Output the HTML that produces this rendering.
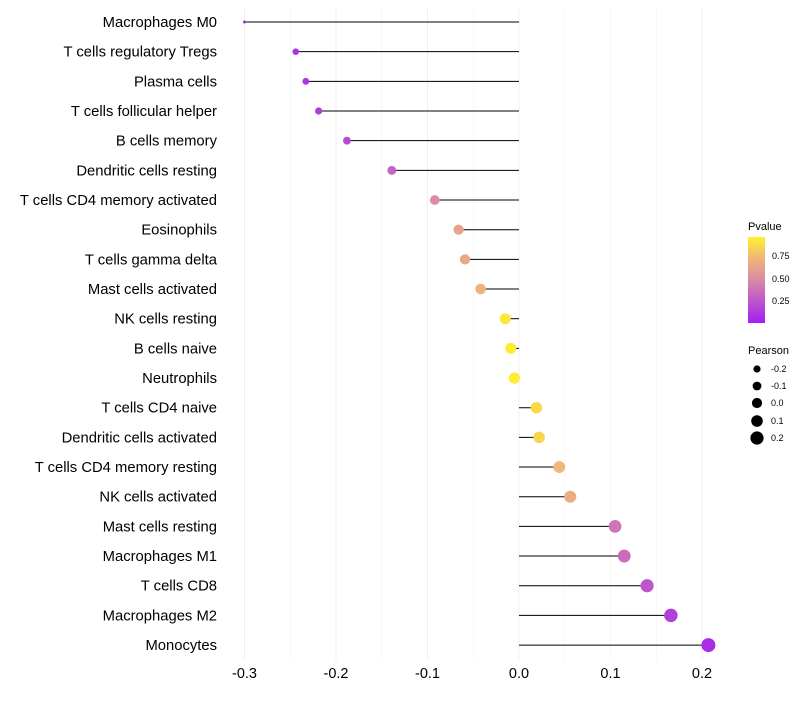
<!DOCTYPE html>
<html><head><meta charset="utf-8"><style>
body{margin:0;background:#fff;font-family:"Liberation Sans",sans-serif}
</style></head><body>
<svg id="chart" width="800" height="700" font-family="Liberation Sans, sans-serif">
<defs><linearGradient id="pg" x1="0" y1="1" x2="0" y2="0">
<stop offset="0" stop-color="#a21ff2"/><stop offset="0.5" stop-color="#d98aa6"/><stop offset="0.75" stop-color="#efb57a"/><stop offset="1" stop-color="#fff22a"/>
</linearGradient></defs>
<g id="grid"></g><g id="marks"></g><g id="labels"></g>
<g>
<text x="748" y="230" font-size="11" fill="#000">Pvalue</text>
<rect x="748" y="237" width="17" height="86" fill="url(#pg)"/>
<g font-size="9" fill="#000">
<text x="772" y="259">0.75</text><text x="772" y="282">0.50</text><text x="772" y="304">0.25</text></g>
<text x="748" y="354" font-size="11" fill="#000">Pearson</text>
<g fill="#000"><circle cx="757" cy="369" r="3.6"/><circle cx="757" cy="386" r="4.4"/><circle cx="757" cy="403" r="5.1"/><circle cx="757" cy="421" r="5.8"/><circle cx="757" cy="438" r="6.6"/></g>
<g font-size="9" fill="#000"><text x="771" y="372">-0.2</text><text x="771" y="389">-0.1</text><text x="771" y="406">0.0</text><text x="771" y="424">0.1</text><text x="771" y="441">0.2</text></g>
</g>
</svg>
<script>
const categories=["Macrophages M0","T cells regulatory  Tregs","Plasma cells","T cells follicular helper","B cells memory","Dendritic cells resting","T cells CD4 memory activated","Eosinophils","T cells gamma delta","Mast cells activated","NK cells resting","B cells naive","Neutrophils","T cells CD4 naive","Dendritic cells activated","T cells CD4 memory resting","NK cells activated","Mast cells resting","Macrophages M1","T cells CD8","Macrophages M2","Monocytes"];
const pearson=[-0.300,-0.244,-0.233,-0.219,-0.188,-0.139,-0.092,-0.066,-0.059,-0.042,-0.015,-0.009,-0.005,0.019,0.022,0.044,0.056,0.105,0.115,0.140,0.166,0.207];
const pvalues=[0.02,0.10,0.11,0.14,0.20,0.32,0.52,0.64,0.68,0.74,0.95,0.97,0.98,0.90,0.88,0.76,0.70,0.40,0.36,0.25,0.15,0.06];
const xTicks=[-0.3,-0.2,-0.1,0.0,0.1,0.2];
const xTickLabels=["-0.3","-0.2","-0.1","0.0","0.1","0.2"];
const NS="http://www.w3.org/2000/svg";
const x=v=>519+v*915;
const y=i=>22+i*29.67;
function col(p){const s=[[0,[162,31,242]],[0.5,[217,138,166]],[0.75,[239,181,122]],[1,[255,242,42]]];
for(let k=1;k<s.length;k++){if(p<=s[k][0]){const t=(p-s[k-1][0])/(s[k][0]-s[k-1][0]);const a=s[k-1][1],b=s[k][1];return `rgb(${a.map((c,j)=>Math.round(c+(b[j]-c)*t)).join(',')})`;}}return 'rgb(255,242,42)';}
const rad=v=>v<-0.28?1.5:Math.sqrt(Math.max(10.9+84.5*(v+0.244),2));
function mk(tag,at,parent){const e=document.createElementNS(NS,tag);for(const k in at)e.setAttribute(k,at[k]);parent.appendChild(e);return e;}
const grid=document.getElementById('grid'),marks=document.getElementById('marks'),labels=document.getElementById('labels');
for(let v=-0.35;v<=0.21;v+=0.05){const xx=x(v);if(xx<232)continue;
const l=mk('line',{x1:xx,x2:xx,y1:8,y2:660,stroke:'#f0f0f0','stroke-width':Math.abs((v*20)%2)>0.5?0.5:1},grid);
}
xTicks.forEach((v,i)=>{const t=mk('text',{x:x(v),y:678,'font-size':14.5,'text-anchor':'middle',fill:'#000'},labels);t.textContent=xTickLabels[i];
});
categories.forEach((c,i)=>{const t=mk('text',{x:217,y:y(i)+5,'font-size':14.8,'text-anchor':'end',fill:'#000'},labels);t.textContent=c;

const ln=mk('line',{x1:x(0),x2:x(pearson[i]),y1:y(i),y2:y(i),stroke:'#000','stroke-width':1},marks);

const ci=mk('circle',{cx:x(pearson[i]),cy:y(i),r:rad(pearson[i]),fill:col(pvalues[i])},marks);
});
</script>
</body></html>
